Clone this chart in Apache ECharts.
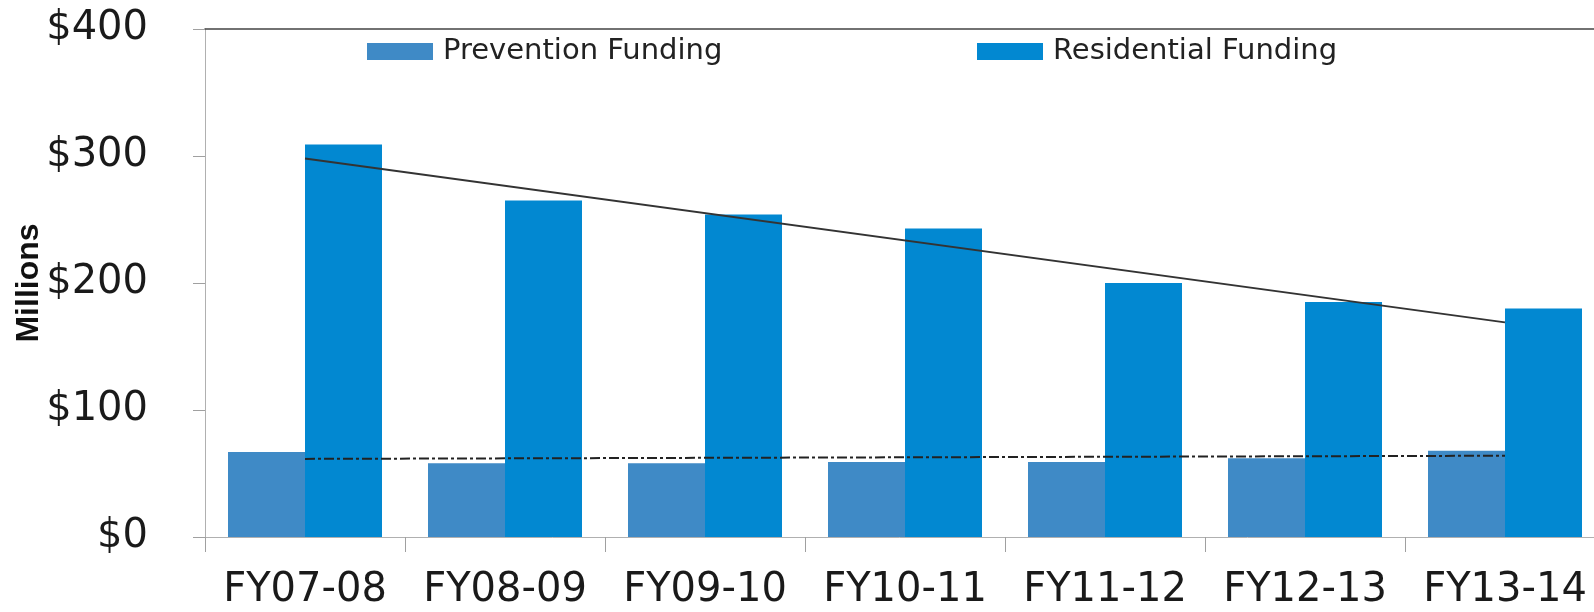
<!DOCTYPE html>
<html>
<head>
<meta charset="utf-8">
<script src="https://cdn.jsdelivr.net/npm/echarts@6/dist/echarts.min.js"></script>
<style>
html,body{margin:0;padding:0;background:#fff;}
#chart{width:1594px;height:612px;}
</style>
</head>
<body>
<div id="chart"></div>
<script>
const categories = ['FY07-08','FY08-09','FY09-10','FY10-11','FY11-12','FY12-13','FY13-14'];
const preventionFunding = [67, 58, 58, 59, 59, 62, 68];
const residentialFunding = [309, 265, 254, 243, 200, 185, 180];
const residentialTrend = [298, null, null, null, null, null, 169];
const preventionTrend = [61.5, null, null, null, null, null, 64];
const yTicks = {min: 0, max: 400, interval: 100};

const font = 'DejaVu Sans';
const chart = echarts.init(document.getElementById('chart'));
chart.setOption({
  animation: false,
  backgroundColor: '#ffffff',
  grid: {left: 205, top: 29, bottom: 75, right: -11, containLabel: false, outerBoundsMode: 'none'},
  legend: [
    {data: ['Prevention Funding'], left: 367, top: 37, padding: 0, itemWidth: 66, itemHeight: 17, icon: 'rect',
     textStyle: {fontFamily: font, fontSize: 29, color: '#222', padding: [0,0,0,5]}},
    {data: ['Residential Funding'], left: 977, top: 37, padding: 0, itemWidth: 66, itemHeight: 17, icon: 'rect',
     textStyle: {fontFamily: font, fontSize: 29, color: '#222', padding: [0,0,0,5]}}
  ],
  xAxis: [
    {type: 'category', data: categories, position: 'bottom',
     axisLine: {lineStyle: {color: '#b0b0b0', width: 1}},
     axisTick: {show: true, length: 15, interval: 0, alignWithLabel: false, lineStyle: {color: '#a0a0a0'}},
     axisLabel: {interval: 0, margin: 34, fontFamily: font, fontSize: 40, color: '#1a1a1a', lineHeight: 40, hideOverlap: false},
     splitLine: {show: false}},
    {type: 'category', data: categories, position: 'top',
     axisLine: {lineStyle: {color: '#444', width: 1.5}},
     axisTick: {show: false}, axisLabel: {show: false}, splitLine: {show: false}}
  ],
  yAxis: {
    type: 'value', min: yTicks.min, max: yTicks.max, interval: yTicks.interval,
    name: 'Millions', nameLocation: 'middle', nameRotate: 90, nameGap: 160, nameMoveOverlap: false,
    nameTextStyle: {fontFamily: 'Liberation Sans', fontWeight: 'bold', fontSize: 32, color: '#111'},
    axisLine: {show: true, lineStyle: {color: '#b0b0b0', width: 1}},
    axisTick: {show: true, length: 12, lineStyle: {color: '#a0a0a0'}},
    axisLabel: {margin: 57, fontFamily: font, fontSize: 40, color: '#1a1a1a', formatter: v => '$' + v},
    splitLine: {show: false}
  },
  series: [
    {name: 'Prevention Funding', type: 'bar', data: preventionFunding, barGap: '0%', barCategoryGap: '23%',
     itemStyle: {color: '#3f8ac6'}, z: 2},
    {name: 'Residential Funding', type: 'bar', data: residentialFunding, barGap: '0%', barCategoryGap: '23%',
     itemStyle: {color: '#0288d1'}, z: 2},
    {name: 'Residential Trend', type: 'line', data: residentialTrend, connectNulls: true, symbol: 'none',
     lineStyle: {color: '#333', width: 2}, z: 5},
    {name: 'Prevention Trend', type: 'line', data: preventionTrend, connectNulls: true, symbol: 'none',
     lineStyle: {color: '#222', width: 2, type: [10, 3, 3, 3]}, z: 5}
  ]
});
</script>
</body>
</html>
